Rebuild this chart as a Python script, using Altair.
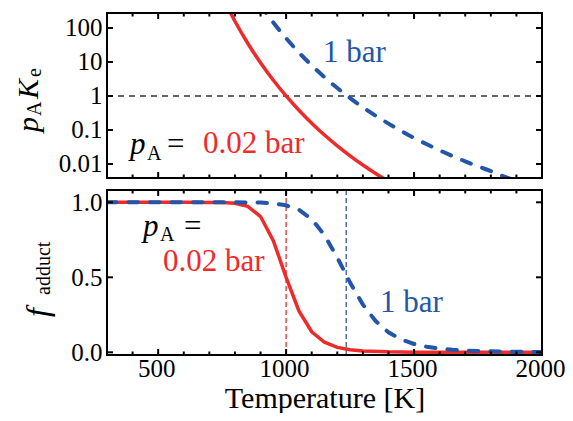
import altair as alt
import pandas as pd

# ---------------- data ----------------
# top panel: p_A K_e (log scale)
T_TOP_RED = [750, 800, 850, 900, 950, 1000, 1050, 1100, 1150, 1200, 1250, 1300, 1350, 1400]
PK_TOP_RED = [855, 158, 35.6, 9.49, 2.90, 1.0, 0.381, 0.159, 0.0712, 0.0342, 0.0174, 0.00934, 0.00525, 0.00307]

T_TOP_BLUE = [900, 950, 1000, 1050, 1100, 1150, 1200, 1250, 1300, 1350, 1400, 1450, 1500,
              1550, 1600, 1650, 1700, 1750, 1800, 1850, 1900]
PK_TOP_BLUE = [474, 145, 50, 19.0, 7.95, 3.56, 1.71, 0.87, 0.467, 0.262, 0.154, 0.0932, 0.0585,
               0.0379, 0.0252, 0.0172, 0.0120, 0.0085, 0.0062, 0.0043, 0.0032]

# bottom panel: f_adduct
T_BOT_RED = [300, 400, 500, 600, 700, 750, 800, 850, 900, 950, 1000, 1050, 1100, 1150, 1200,
             1250, 1300, 1400, 1500, 1600, 1800, 2000]
F_BOT_RED = [1.0, 1.0, 1.0, 1.0, 0.999, 0.999, 0.994, 0.973, 0.905, 0.744, 0.5, 0.276, 0.137,
             0.067, 0.033, 0.017, 0.009, 0.003, 0.001, 0.0005, 0.0002, 0.0001]

T_BOT_BLUE = [300, 400, 500, 600, 700, 800, 850, 900, 950, 1000, 1050, 1100, 1150, 1200, 1250,
              1300, 1350, 1400, 1450, 1500, 1550, 1600, 1650, 1700, 1800, 1900, 2000]
F_BOT_BLUE = [1.0, 1.0, 1.0, 1.0, 1.0, 0.9999, 0.9994, 0.998, 0.993, 0.980, 0.95, 0.888, 0.781,
              0.631, 0.465, 0.318, 0.208, 0.133, 0.0853, 0.0553, 0.0365, 0.0246, 0.0169, 0.0119,
              0.0062, 0.0034, 0.002]

T_HALF_RED = [1000]
T_HALF_BLUE = [1235]
PK_ONE = [1.0]

X_MAJOR = [500, 1000, 1500]
X_MINOR = [400, 600, 700, 800, 900, 1100, 1200, 1300, 1400, 1600, 1700, 1800, 1900]
X_LABELS = [500, 1000, 1500, 2000]
Y_TOP_TICKS = [0.01, 0.1, 1, 10, 100]
Y_BOT_TICKS = [0.0, 0.5, 1.0]

# ---------------- styling ----------------
FONT = "Liberation Serif"
RED = "#EE2B2B"
BLUE = "#2356A8"
W, H = 435, 165

xscale = alt.Scale(domain=[300, 2000], nice=False, zero=False)
ytop_scale = alt.Scale(type="log", domain=[0.00387, 276], nice=False)
ybot_scale = alt.Scale(domain=[-0.018, 1.082], nice=False, zero=False)

common_axis = dict(ticks=False, tickSize=0, domain=False, grid=False,
                   labelFont=FONT, labelFontSize=25, labelColor="black",
                   labelOverlap=False, labelFlush=False)

bot_xaxis = alt.Axis(values=X_LABELS, format="d", labelPadding=1, labelOffset=-2,
                     title="Temperature [K]",
                     titleFont=FONT, titleFontSize=30, titleFontWeight="normal",
                     titleColor="black", titlePadding=2, **common_axis)
ytop_axis = alt.Axis(values=Y_TOP_TICKS, format="~g", labelPadding=5, **common_axis)
ybot_axis = alt.Axis(values=Y_BOT_TICKS, format=".1f", labelPadding=5, **common_axis)


def X(field, axis):
    return alt.X(field, type="quantitative", scale=xscale, axis=axis,
                 title="Temperature [K]" if axis is not None else None)


def Ytop(field):
    return alt.Y(field, type="quantitative", scale=ytop_scale, axis=ytop_axis, title=None)


def Ybot(field):
    return alt.Y(field, type="quantitative", scale=ybot_scale, axis=ybot_axis, title=None)


def txt(s, x, y, size=31, color="black", italic=False, angle=0):
    mk = dict(text=s, font=FONT, fontSize=size, color=color, align="left",
              baseline="alphabetic")
    if italic:
        mk["fontStyle"] = "italic"
    if angle:
        mk["angle"] = angle
    return alt.Chart(pd.DataFrame({"d": [0]})).mark_text(**mk).encode(
        x=alt.value(x), y=alt.value(y))


def frame():
    return alt.Chart(pd.DataFrame({"d": [0]})).mark_rect(
        fill="transparent", stroke="black", strokeWidth=2).encode(
        x=alt.value(0), x2=alt.value(W), y=alt.value(0), y2=alt.value(H))


def tick_layers(xaxis, yfun, yvals):
    out = []
    for vals, ln in ((X_MAJOR, 6), (X_MINOR, 3.5)):
        df = pd.DataFrame({"T": vals})
        out.append(alt.Chart(df).mark_rule(color="black", strokeWidth=2).encode(
            x=X("T", xaxis), y=alt.value(H), y2=alt.value(H - ln)))
        out.append(alt.Chart(df).mark_rule(color="black", strokeWidth=2).encode(
            x=X("T", xaxis), y=alt.value(0), y2=alt.value(ln)))
    dfy = pd.DataFrame({"v": yvals})
    out.append(alt.Chart(dfy).mark_rule(color="black", strokeWidth=2).encode(
        y=yfun("v"), x=alt.value(0), x2=alt.value(6)))
    out.append(alt.Chart(dfy).mark_rule(color="black", strokeWidth=2).encode(
        y=yfun("v"), x=alt.value(W - 6), x2=alt.value(W)))
    return out


# ---------------- top panel ----------------
hline = alt.Chart(pd.DataFrame({"v": PK_ONE})).mark_rule(
    color="#333333", strokeWidth=1.5, strokeDash=[6, 5]).encode(y=Ytop("v"))

top_red = alt.Chart(pd.DataFrame({"T": T_TOP_RED, "v": PK_TOP_RED})).mark_line(
    color=RED, strokeWidth=3.5, clip=True, interpolate="monotone").encode(
    x=X("T", None), y=Ytop("v"))

top_blue = alt.Chart(pd.DataFrame({"T": T_TOP_BLUE, "v": PK_TOP_BLUE})).mark_line(
    color=BLUE, strokeWidth=4, clip=True, interpolate="monotone",
    strokeDash=[9.5, 12], strokeCap="round").encode(
    x=X("T", None), y=Ytop("v"))

top_texts = [
    txt("p", 23, 141, italic=True),
    txt("A", 40, 147, size=20),
    txt("=", 60, 141),
    txt("0.02 bar", 96, 140, color=RED),
    txt("1 bar", 216, 49, color=BLUE),
    # rotated y title  p_A K_e
    txt("p", -69, 119, italic=True, size=30, angle=270),
    txt("A", -66, 103, size=20, angle=270),
    txt("K", -69, 86, italic=True, size=30, angle=270),
    txt("e", -66, 64, size=20, angle=270),
]

top = alt.layer(hline, top_red, top_blue, *tick_layers(None, Ytop, Y_TOP_TICKS),
                frame(), *top_texts).properties(width=W, height=H)

# ---------------- bottom panel ----------------
vred = alt.Chart(pd.DataFrame({"T": T_HALF_RED})).mark_rule(
    color="#F04848", strokeWidth=1.5, strokeDash=[5, 3]).encode(x=X("T", bot_xaxis))
vblue = alt.Chart(pd.DataFrame({"T": T_HALF_BLUE})).mark_rule(
    color="#4A6FB8", strokeWidth=1.5, strokeDash=[5, 3]).encode(x=X("T", bot_xaxis))

bot_red = alt.Chart(pd.DataFrame({"T": T_BOT_RED, "v": F_BOT_RED})).mark_line(
    color=RED, strokeWidth=3.5, clip=True).encode(x=X("T", bot_xaxis), y=Ybot("v"))

bot_blue = alt.Chart(pd.DataFrame({"T": T_BOT_BLUE, "v": F_BOT_BLUE})).mark_line(
    color=BLUE, strokeWidth=4, clip=True, strokeDash=[9.5, 12],
    strokeCap="round").encode(x=X("T", bot_xaxis), y=Ybot("v"))

bot_texts = [
    txt("p", 36, 46, italic=True),
    txt("A", 53, 51, size=20),
    txt("=", 77, 46),
    txt("0.02 bar", 56, 81, color=RED),
    txt("1 bar", 273, 122, color=BLUE),
    # rotated y title f_adduct
    txt("f", -59, 127, italic=True, size=32, angle=270),
    txt("adduct", -57, 105, size=20, angle=270),
]

bottom = alt.layer(vred, vblue, bot_red, bot_blue,
                   *tick_layers(bot_xaxis, Ybot, Y_BOT_TICKS),
                   frame(), *bot_texts).properties(width=W, height=H)

chart = alt.vconcat(top, bottom, spacing=10).properties(
    padding={"left": 6, "top": 4, "right": 0, "bottom": 0},
    background="white",
).configure_view(stroke="transparent", strokeWidth=0)

chart.save("out.html", embed_options={"renderer": "svg", "actions": False})
